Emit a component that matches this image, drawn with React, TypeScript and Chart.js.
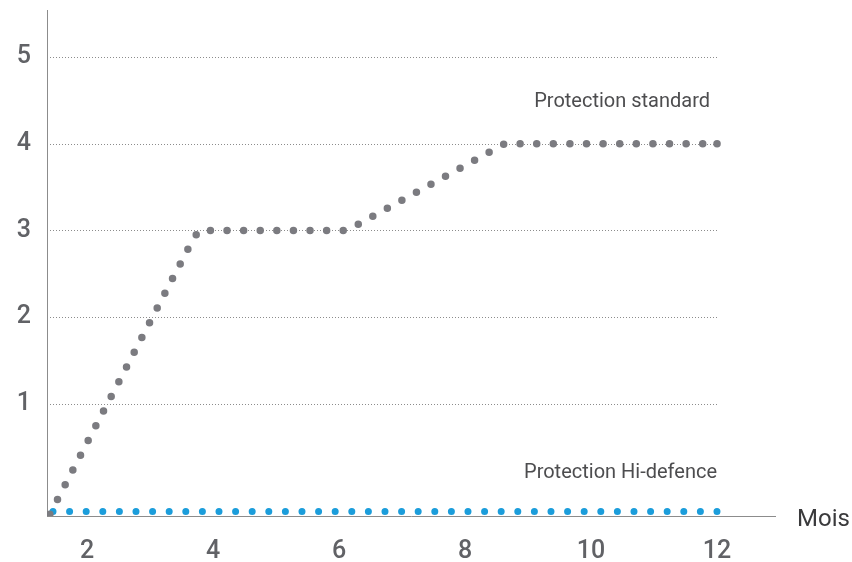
import React, { useEffect, useRef } from 'react';
import { Chart, registerables } from 'chart.js';

Chart.register(...registerables);

// Data
const standardMonths = [1.41, 3.67, 3.78, 6.13, 8.63, 12];
const standardValues = [-0.27, 2.88, 3, 3, 4, 4];
const hidefMonths = [1.46, 12];
const hidefValues = [-0.24, -0.24];
const xTicks = [2, 4, 6, 8, 10, 12];
const yTicks = [1, 2, 3, 4, 5];
const seriesLabels = ['Protection standard', 'Protection Hi-defence'];
const xAxisTitle = 'Mois';

const TICK_FONT = { family: 'Roboto, sans-serif', size: 25, weight: '500' as any };
const TEXT_FAMILY = 'Roboto, "Noto Sans", sans-serif';

export default function App() {
  const ref = useRef<HTMLCanvasElement | null>(null);

  useEffect(() => {
    if (!ref.current) return;

    const overlay = {
      id: 'overlay',
      beforeDatasetsDraw(chart: any) {
        const { ctx, chartArea, scales } = chart;
        const x = scales.x, y = scales.y;
        ctx.save();
        ctx.strokeStyle = '#8c8c8c';
        ctx.lineWidth = 1;
        ctx.setLineDash([1, 2]);
        const xEnd = x.getPixelForValue(12);
        for (const v of yTicks) {
          const py = Math.round(y.getPixelForValue(v)) + 0.5;
          ctx.beginPath();
          ctx.moveTo(chartArea.left, py);
          ctx.lineTo(xEnd, py);
          ctx.stroke();
        }
        ctx.restore();
      },
      afterDatasetsDraw(chart: any) {
        const { ctx, chartArea, scales } = chart;
        const x = scales.x, y = scales.y;
        ctx.save();
        ctx.fillStyle = '#4d4d4f';
        ctx.font = `20px ${TEXT_FAMILY}`;
        ctx.textAlign = 'right';
        ctx.textBaseline = 'middle';
        ctx.fillText(seriesLabels[0], x.getPixelForValue(12) - 7, y.getPixelForValue(4.48));
        ctx.fillText(seriesLabels[1], x.getPixelForValue(12), y.getPixelForValue(0.205));
        ctx.font = `24px ${TEXT_FAMILY}`;
        ctx.fillStyle = '#3a3a3c';
        ctx.textAlign = 'left';
        ctx.fillText(xAxisTitle, chartArea.right + 22, chartArea.bottom + 4);
        ctx.restore();
      },
    };

    const lastOnly = (n: number, r: number) => (c: any) => (c.dataIndex === n - 1 ? r : 0);

    const chart = new Chart(ref.current, {
      type: 'line',
      data: {
        datasets: [
          {
            label: seriesLabels[0],
            data: standardMonths.map((m, i) => ({ x: m, y: standardValues[i] })),
            borderColor: '#7b7b80',
            backgroundColor: '#7b7b80',
            borderWidth: 7.5,
            borderDash: [0, 16.6],
            borderCapStyle: 'round',
            pointRadius: lastOnly(standardMonths.length, 3.75),
            pointBorderWidth: 0,
            pointBackgroundColor: '#7b7b80',
            tension: 0,
            fill: false,
          },
          {
            label: seriesLabels[1],
            data: hidefMonths.map((m, i) => ({ x: m, y: hidefValues[i] })),
            borderColor: '#1b9ddb',
            backgroundColor: '#1b9ddb',
            borderWidth: 7,
            borderDash: [0, 16.6],
            borderCapStyle: 'round',
            pointRadius: 0,
            tension: 0,
            fill: false,
          },
        ],
      },
      options: {
        responsive: false,
        animation: false,
        layout: { padding: { top: 10, right: 77, left: 0, bottom: 0 } },
        plugins: { legend: { display: false }, tooltip: { enabled: false } },
        scales: {
          x: {
            type: 'linear',
            min: 1.365,
            max: 12.92,
            afterBuildTicks: (s: any) => { s.ticks = xTicks.map((v) => ({ value: v })); },
            afterFit: (s: any) => { s.height = 46; s.paddingLeft = 0; s.paddingRight = 0; },
            grid: { display: false, drawTicks: false },
            border: { display: true, color: '#8c8c8c', width: 1, dash: [1, 2] },
            ticks: { color: '#616266', font: TICK_FONT, padding: 21, maxRotation: 0, autoSkip: false },
          },
          y: {
            type: 'linear',
            min: -0.291,
            max: 5.54,
            afterBuildTicks: (s: any) => { s.ticks = yTicks.map((v) => ({ value: v })); },
            afterFit: (s: any) => { s.width = 47; s.paddingTop = 0; s.paddingBottom = 0; },
            grid: { display: false, drawTicks: false },
            border: { display: true, color: '#8c8c8c', width: 1, dash: [1, 2] },
            ticks: { color: '#616266', font: TICK_FONT, padding: 16 },
          },
        },
      },
      plugins: [overlay],
    } as any);

    return () => chart.destroy();
  }, []);

  return (
    <div style={{ position: 'fixed', left: 0, top: 0, width: 852, height: 562, background: '#fff' }}>
      <canvas ref={ref} width={852} height={562} style={{ display: 'block' }} />
    </div>
  );
}
